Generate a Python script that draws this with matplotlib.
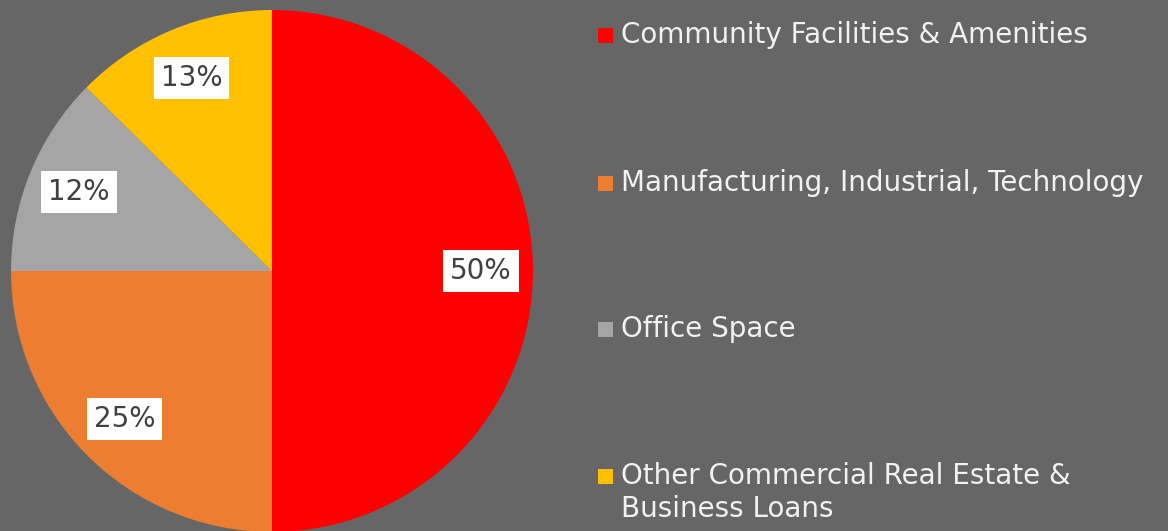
import matplotlib.pyplot as plt
from matplotlib.patches import Rectangle

categories = ["Community Facilities & Amenities",
              "Manufacturing, Industrial, Technology",
              "Office Space",
              "Other Commercial Real Estate &\nBusiness Loans"]
shares = [50, 25, 12.4, 12.6]
colors = ["#ff0000", "#ed7d31", "#a5a5a5", "#ffc000"]

bg = "#666666"
fig = plt.figure(figsize=(11.68, 5.31), dpi=100, facecolor=bg)

# pie axes placed in pixels: centre (272, 271 from top), radius 261
W, H = 1168, 531
cx, cy, r = 272, H - 271, 261
ax = fig.add_axes([(cx - r) / W, (cy - r) / H, 2 * r / W, 2 * r / H])
ax.set_facecolor(bg)

wedges, texts, autotexts = ax.pie(
    shares, colors=colors, startangle=90, counterclock=False,
    autopct=lambda p: "%d%%" % round(p), pctdistance=0.8, radius=1,
    wedgeprops=dict(linewidth=0))
for t in autotexts:
    t.set_fontsize(20)
    t.set_color("#404040")
    t.set_bbox(dict(facecolor="white", edgecolor="none", pad=5))
ax.set_xlim(-1, 1)
ax.set_ylim(-1, 1)
ax.set_aspect("equal")
ax.axis("off")

# legend drawn by hand
legend_y = [35, 183, 329, 476]
line_h = 33
for name, col, y in zip(categories, colors, legend_y):
    fig.patches.append(Rectangle((598 / W, (H - y - 7.5) / H), 15 / W, 15 / H,
                                 transform=fig.transFigure, facecolor=col,
                                 edgecolor="none"))
    n = name.count("\n")
    fig.text(621 / W, (H - y - n * line_h / 2) / H, name, fontsize=20,
             color="#f2f2f2", va="center", ha="left", linespacing=1.2)

fig.savefig("out.png", dpi=100, facecolor=bg)
